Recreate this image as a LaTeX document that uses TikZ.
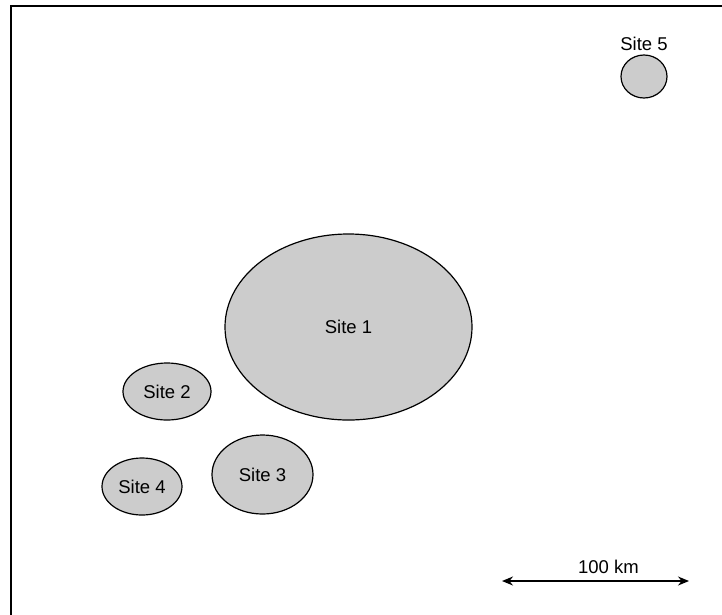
\documentclass[tikz,border=0pt]{standalone}
\usepackage{fontspec}
\setmainfont{Liberation Sans}
\usetikzlibrary{positioning,arrows.meta,shapes.geometric}
\definecolor{sitegray}{RGB}{204,204,204}

\begin{document}
\begin{tikzpicture}[x=1pt,y=-1pt, every node/.style={font=\fontsize{18.5}{22}\selectfont},
    site/.style={ellipse,draw,fill=sitegray,line width=1.2pt,inner sep=0pt}]
  \useasboundingbox (0,0) rectangle (722,614);
  \clip (0,0) rectangle (722,614);
  % map frame (only top and left edges fall inside the picture)
  \draw[line width=1.5pt] (11,6) rectangle (760,660);
  % sites
  \node[site,minimum width=247pt,minimum height=186pt] at (348.5,327) (site1) {Site 1};
  \node[site,minimum width=88pt,minimum height=57pt] at (167,391.5) (site2) {Site 2};
  \node[site,minimum width=101pt,minimum height=79pt] at (262.5,474.5) (site3) {Site 3};
  \node[site,minimum width=80pt,minimum height=57pt] at (142,486.5) (site4) {Site 4};
  \node[site,minimum width=46pt,minimum height=43pt] at (644,76.5) (site5) {};
  \node[above=4pt of site5,inner sep=0pt] (site5lbl) {Site 5};
  % scale bar
  \coordinate (barL) at (502,581);
  \coordinate (barR) at (689,581);
  \draw[{Stealth[length=11pt,width=9pt]}-{Stealth[length=11pt,width=9pt]},line width=1.5pt] (barL) -- (barR);
  \node at (608.5,567) (barlbl) {100 km};
\end{tikzpicture}
\end{document}
